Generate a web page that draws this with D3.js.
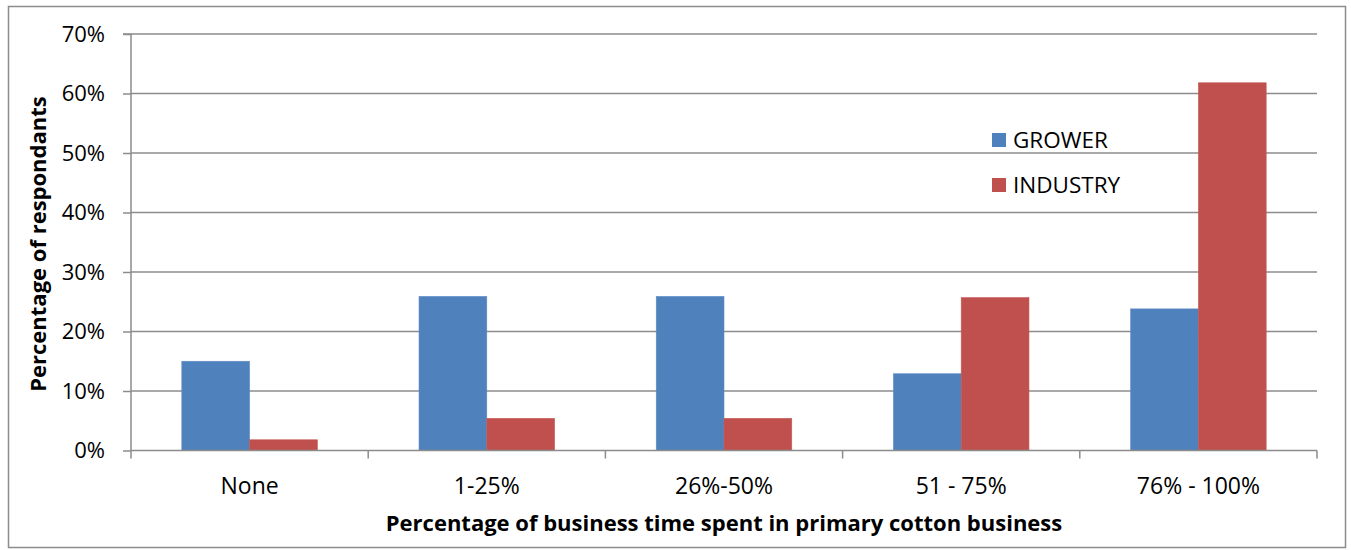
<!DOCTYPE html>
<html><head><meta charset="utf-8">
<script src="https://cdn.jsdelivr.net/npm/d3@7"></script>
<style>body{margin:0;background:#fff}svg{display:block}text{font-family:"Open Sans","Noto Sans",sans-serif;fill:#000}</style>
</head><body>
<svg id="c" width="1351" height="550"></svg>
<script>
const categories = ["None", "1-25%", "26%-50%", "51 - 75%", "76% - 100%"];
const seriesNames = ["GROWER", "INDUSTRY"];
const grower = [15.0, 25.9, 25.9, 12.9, 23.8];
const industry = [1.8, 5.4, 5.4, 25.7, 61.8];
const yTicks = [0, 10, 20, 30, 40, 50, 60, 70];
const colors = ["#4f81bd", "#c0504d"];
const xTitle = "Percentage of business time spent in primary cotton business";
const yTitle = "Percentage of respondants";

const FONT = '"Open Sans","Noto Sans",sans-serif';
const svg = d3.select("#c");
svg.append("rect").attr("x", 8.5).attr("y", 6.5).attr("width", 1337).attr("height", 541)
  .attr("fill", "#fff").attr("stroke", "#8c8c8c").attr("stroke-width", 1.5);

const L = 131, R = 1317, T = 34, B = 450.5;
const x = d3.scaleBand().domain(categories).range([L, R]).paddingInner(0).paddingOuter(0);
const bw = x.bandwidth() / 3.5;
const y = d3.scaleLinear().domain([0, 70]).range([B, T]);

// gridlines
svg.append("g").selectAll("line").data(yTicks.filter(d => d > 0)).join("line")
  .attr("x1", L).attr("x2", R).attr("y1", d => y(d)).attr("y2", d => y(d))
  .attr("stroke", "#8c8c8c").attr("stroke-width", 1.5);

// bars
const data = categories.map((c, i) => ({c, vals: [grower[i], industry[i]]}));
const g = svg.append("g");
data.forEach(d => {
  d.vals.forEach((v, s) => {
    g.append("rect")
      .attr("x", x(d.c) + 0.75 * bw + s * bw)
      .attr("y", y(v))
      .attr("width", bw)
      .attr("height", y(0) - y(v))
      .attr("fill", colors[s])
      .attr("stroke", s === 0 ? "#5f8cc3" : "#c65a57").attr("stroke-width", 0.6);
  });
});

// y axis
const yAxis = d3.axisLeft(y).tickValues(yTicks).tickFormat(d => d + "%").tickSize(8).tickPadding(18);
const ya = svg.append("g").attr("transform", `translate(${L},0)`).call(yAxis);
ya.select(".domain").attr("stroke", "#8c8c8c").attr("stroke-width", 1.5).attr("d", `M-8,${T}H0V${B}`);
ya.selectAll(".tick line").attr("stroke", "#8c8c8c").attr("stroke-width", 1.5);
ya.selectAll(".tick text").style("font-size", "22px").style("font-family", FONT).attr("fill", "#000");

// x axis
const xa = svg.append("g").attr("transform", `translate(0,${B})`).call(d3.axisBottom(x).tickSize(0));
xa.select(".domain").attr("stroke", "#8c8c8c").attr("stroke-width", 1.5).attr("d", `M${L},0H${R}`);
xa.selectAll(".tick text").style("font-size", "23px").style("font-family", FONT).attr("fill", "#000")
  .attr("y", 35).attr("dy", "0.35em");
const bounds = categories.map(c => x(c)).concat([R]);
xa.append("g").selectAll("line").data(bounds).join("line")
  .attr("x1", d => d).attr("x2", d => d).attr("y1", 0).attr("y2", 8)
  .attr("stroke", "#8c8c8c").attr("stroke-width", 1.5);

// titles
svg.append("text").attr("x", 724).attr("y", 523).attr("dy", "0.35em").attr("text-anchor", "middle")
  .style("font-size", "22px").style("font-weight", "bold").text(xTitle);
svg.append("text").attr("transform", `translate(38,244) rotate(-90)`).attr("dy", "0.35em").attr("text-anchor", "middle")
  .style("font-size", "22px").style("font-weight", "bold").text(yTitle);

// legend
const lg = svg.append("g");
seriesNames.forEach((n, i) => {
  const yy = 140 + i * 45;
  lg.append("rect").attr("x", 992).attr("y", yy - 7).attr("width", 14).attr("height", 14).attr("fill", colors[i]);
  lg.append("text").attr("x", 1013).attr("y", yy).attr("dy", "0.35em").style("font-size", "22.5px").text(n);
});
</script>
</body></html>
